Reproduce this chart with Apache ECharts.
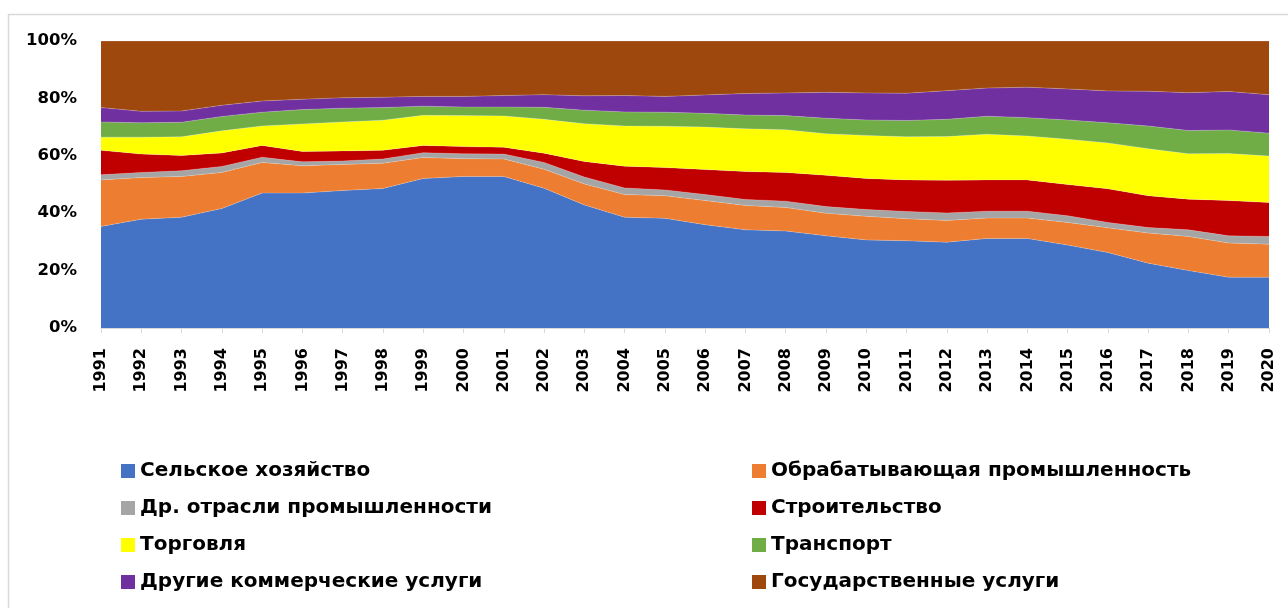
<!DOCTYPE html>
<html>
<head>
<meta charset="utf-8">
<script src="https://cdn.jsdelivr.net/npm/echarts@6/dist/echarts.min.js"></script>
<style>
html,body{margin:0;padding:0;background:#fff;}
#chart{width:1288px;height:608px;}
</style>
</head>
<body>
<div id="chart"></div>
<script>
const years = ['1991','1992','1993','1994','1995','1996','1997','1998','1999','2000','2001','2002','2003','2004','2005','2006','2007','2008','2009','2010','2011','2012','2013','2014','2015','2016','2017','2018','2019','2020'];
const yTicks = [0, 20, 40, 60, 80, 100];

const agriculture   = [35.4,37.9,38.6,41.6,47.0,47.0,47.9,48.6,52.1,52.8,52.8,48.7,42.9,38.6,38.2,36.0,34.2,33.8,32.1,30.7,30.4,29.9,31.2,31.2,28.9,26.3,22.6,20.0,17.7,17.7];
const manufacturing = [16.2,14.5,14.2,12.6,10.7,9.5,9.1,8.8,7.3,6.2,6.1,6.6,7.3,7.9,7.9,8.4,8.5,8.2,7.9,8.2,7.7,7.6,7.1,7.1,7.9,8.6,10.5,11.9,11.9,11.5];
const otherIndustry = [1.8,1.8,2.0,2.1,1.8,1.4,1.2,1.5,1.7,1.7,1.7,2.4,2.4,2.3,2.0,2.1,2.1,2.2,2.3,2.4,2.5,2.6,2.4,2.4,2.3,1.9,1.9,2.3,2.5,2.7];
const construction  = [8.5,6.4,5.3,4.7,4.1,3.6,3.5,3.0,2.5,2.5,2.4,3.2,5.4,7.6,7.8,8.7,9.7,10.0,10.9,10.8,11.0,11.4,10.9,10.9,10.9,11.7,11.1,10.7,12.3,11.8];
const trade         = [4.6,5.9,6.5,7.7,6.8,9.6,10.1,10.5,10.5,10.8,10.9,11.8,13.2,14.0,14.4,14.8,14.9,14.9,14.5,15.0,15.0,15.2,15.9,15.3,15.8,16.0,16.4,15.8,16.4,16.2];
const transport     = [5.3,5.0,5.1,5.0,4.8,5.0,4.8,4.4,3.2,3.0,3.1,4.2,4.7,4.9,4.9,4.8,4.8,4.9,5.4,5.4,5.7,6.0,6.3,6.4,6.7,7.0,7.9,8.1,8.2,8.0];
const otherServices = [5.0,4.0,3.9,3.9,3.9,3.6,3.6,3.6,3.4,3.7,4.0,4.4,5.0,5.7,5.5,6.4,7.5,7.9,9.0,9.4,9.5,10.0,9.8,10.6,10.8,11.1,12.1,13.2,13.4,13.4];
const government    = [23.2,24.5,24.4,22.4,20.9,20.3,19.8,19.6,19.3,19.3,19.0,18.7,19.1,19.0,19.3,18.8,18.3,18.1,17.9,18.1,18.2,17.3,16.4,16.1,16.7,17.4,17.5,18.0,17.6,18.7];

const seriesNames = ['Сельское хозяйство','Обрабатывающая промышленность','Др. отрасли промышленности','Строительство','Торговля','Транспорт','Другие коммерческие услуги','Государственные услуги'];
const seriesData = [agriculture, manufacturing, otherIndustry, construction, trade, transport, otherServices, government];
const colors = ['#4472C4','#ED7D31','#A5A5A5','#C00000','#FFFF00','#70AD47','#7030A0','#9E480E'];

const FONT = 'DejaVu Sans';
const chart = echarts.init(document.getElementById('chart'), null, {renderer:'canvas'});

const legendText = {fontFamily: FONT, fontWeight: 'bold', fontSize: 20, color: '#000', lineHeight: 20};

chart.setOption({
  animation: false,
  color: colors,
  graphic: [{
    type: 'rect', left: 6, top: 12, z: -10,
    shape: {width: 1400, height: 800},
    style: {fill: 'none', stroke: '#d9d9d9', lineWidth: 1.5}
  }],
  grid: {left: 101, right: 19, top: 41, bottom: 280, containLabel: false},
  legend: [
    {
      orient: 'vertical', left: 116, top: 456, itemGap: 17,
      itemWidth: 14, itemHeight: 14, icon: 'rect', itemGap: 17, textStyle: legendText,
      data: [seriesNames[0], seriesNames[2], seriesNames[4], seriesNames[6]]
    },
    {
      orient: 'vertical', left: 747, top: 456, itemGap: 17,
      itemWidth: 14, itemHeight: 14, icon: 'rect', textStyle: legendText,
      data: [seriesNames[1], seriesNames[3], seriesNames[5], seriesNames[7]]
    }
  ],
  xAxis: {
    type: 'category', data: years, boundaryGap: false,
    axisLine: {show: true, lineStyle: {color: '#d9d9d9'}},
    axisTick: {show: true, length: 5, lineStyle: {color: '#d9d9d9'}},
    axisLabel: {rotate: 90, margin: 20, fontFamily: FONT, fontWeight: 'bold', fontSize: 16, color: '#000', interval: 0}
  },
  yAxis: {
    type: 'value', min: yTicks[0], max: yTicks[yTicks.length-1], interval: 20,
    axisLine: {show: false}, axisTick: {show: false},
    splitLine: {show: true, lineStyle: {color: '#d9d9d9'}},
    axisLabel: {formatter: '{value}%', margin: 24, fontFamily: FONT, fontWeight: 'bold', fontSize: 16.5, color: '#000'}
  },
  series: seriesNames.map((name, i) => ({
    name: name, type: 'line', stack: 'total',
    data: seriesData[i], symbol: 'none', showSymbol: false,
    lineStyle: {width: 0.6, color: 'rgba(255,255,255,0.35)'},
    areaStyle: {color: colors[i], opacity: 1},
    itemStyle: {color: colors[i]},
    emphasis: {disabled: true}
  }))
});
</script>
</body>
</html>
